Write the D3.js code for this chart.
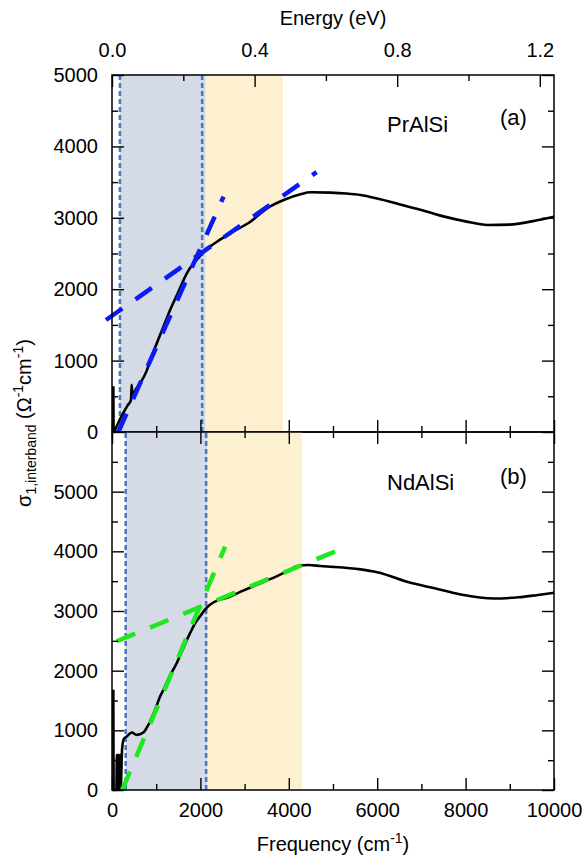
<!DOCTYPE html>
<html>
<head>
<meta charset="utf-8">
<script src="https://cdn.jsdelivr.net/npm/d3@7"></script>
<style>
  body { margin: 0; background: #fff; }
  svg text { font-family: "Liberation Sans", Arial, Helvetica, sans-serif; fill: #000; }
</style>
</head>
<body>
<svg id="chart" width="584" height="859"></svg>
<script>
// PrAlSi, sigma_1 interband (panel a)
var prFreq = [30, 38, 60, 150, 250, 350, 430, 445, 460, 540, 635, 786, 862, 1013, 1160, 1315, 1500, 1693, 1844, 1995, 2080, 2222, 2374, 2600, 2751, 3129, 3508, 3884, 4263, 4490, 4943, 5300, 5624, 6000, 6500, 7136, 7500, 8000, 8496, 9000, 9500, 10000];
var prSigma = [640, 0, 20, 140, 260, 370, 450, 660, 520, 600, 680, 860, 1000, 1242, 1470, 1709, 1960, 2222, 2363, 2465, 2530, 2600, 2665, 2750, 2810, 2945, 3133, 3249, 3329, 3357, 3352, 3340, 3319, 3270, 3190, 3085, 3020, 2950, 2899, 2905, 2950, 3015];

// NdAlSi, sigma_1 interband (panel b)
var ndFreq = [30, 38, 60, 100, 110, 125, 143, 160, 181, 195, 230, 270, 333, 446, 560, 710, 823, 975, 1088, 1164, 1300, 1466, 1620, 1769, 1900, 1995, 2100, 2222, 2400, 2600, 2900, 3204, 3500, 3734, 4000, 4188, 4450, 4717, 5000, 5624, 6000, 6757, 7300, 7891, 8646, 9200, 9600, 10000];
var ndSigma = [1680, 0, 0, 0, 590, 0, 590, 0, 590, 0, 700, 860, 896, 963, 924, 963, 1092, 1345, 1568, 1680, 1900, 2129, 2390, 2633, 2820, 2913, 3020, 3109, 3180, 3221, 3320, 3417, 3510, 3585, 3680, 3753, 3770, 3753, 3740, 3697, 3650, 3473, 3380, 3277, 3210, 3230, 3265, 3305];

// linear fits, endpoints in (cm^-1, Ohm^-1 cm^-1)
var prFits = [[[143, 0], [2524, 3296]], [[-136, 1569], [4630, 3640]]];
var ndFits = [[[230, 0], [2560, 4080]], [[106, 2493], [5261, 4062]]];

// shaded ranges [from, to] and cut-off lines (cm^-1)
var prGray = [180, 2120], prYellow = [2120, 3870], prCuts = [180, 2040];
var ndGray = [310, 2150], ndYellow = [2150, 4300], ndCuts = [310, 2130];

var freqMajor = [0, 2000, 4000, 6000, 8000, 10000];
var freqMinor = [1000, 3000, 5000, 7000, 9000];
var energyMajor = [0, 0.4, 0.8, 1.2];
var energyMinor = [0.2, 0.6, 1.0];
var sigmaMajor = [0, 1000, 2000, 3000, 4000, 5000];
var sigmaMinorA = [500, 1500, 2500, 3500, 4500];
var sigmaMinorB = [500, 1500, 2500, 3500, 4500, 5500];

var CM_PER_EV = 8065.54;
var padL = 112, padR = 554, padT = 75, padM = 432, padB = 790;

var svg = d3.select('#chart');
var x = d3.scaleLinear().domain([0, 10000]).range([padL, padR]);
var xe = d3.scaleLinear().domain([0, 10000 / CM_PER_EV]).range([padL, padR]);
var ya = d3.scaleLinear().domain([0, 5000]).range([padM, padT]);
var yb = d3.scaleLinear().domain([0, 6000]).range([padB, padM]);

function noDomain(a) {
  a.select('.domain').remove();
  a.selectAll('line').attr('stroke', '#000').attr('stroke-width', 1.4);
}

function panel(y, isTop, freq, sigma, gray, yellow, cuts, fits, fitColor, minorY, name, tag) {
  var g = svg.append('g');
  var y0 = y.range()[0], y1 = y.range()[1];
  g.append('rect').attr('x', x(gray[0])).attr('y', y1).attr('width', x(gray[1]) - x(gray[0])).attr('height', y0 - y1).attr('fill', '#d4dbe6');
  g.append('rect').attr('x', x(yellow[0])).attr('y', y1).attr('width', x(yellow[1]) - x(yellow[0])).attr('height', y0 - y1).attr('fill', '#fdf0d0');
  cuts.forEach(function (c) {
    g.append('line').attr('x1', x(c)).attr('x2', x(c)).attr('y1', y0).attr('y2', y1)
      .attr('stroke', '#4a78c8').attr('stroke-width', 2.6).attr('stroke-dasharray', '5,3');
  });

  var line = d3.line().x(function (d) { return x(d[0]); }).y(function (d) { return y(d[1]); }).curve(d3.curveMonotoneX);
  g.append('path').datum(d3.zip(freq, sigma)).attr('d', line)
    .attr('fill', 'none').attr('stroke', '#000').attr('stroke-width', 2.6);

  fits.forEach(function (f) {
    g.append('line').attr('x1', x(f[0][0])).attr('y1', y(f[0][1])).attr('x2', x(f[1][0])).attr('y2', y(f[1][1]))
      .attr('stroke', fitColor).attr('stroke-width', 4.5).attr('stroke-dasharray', '20,16');
  });

  // ticks, all pointing inward
  g.append('g').attr('transform', 'translate(' + padL + ',0)')
    .call(d3.axisLeft(y).tickValues(sigmaMajor).tickSize(-12).tickPadding(14).tickFormat(d3.format('d')))
    .call(noDomain).selectAll('text').attr('font-size', 20).attr('font-family', null);
  g.append('g').attr('transform', 'translate(' + padL + ',0)')
    .call(d3.axisLeft(y).tickValues(minorY).tickSize(-6).tickFormat('')).call(noDomain);
  g.append('g').attr('transform', 'translate(' + padR + ',0)')
    .call(d3.axisRight(y).tickValues(sigmaMajor).tickSize(-12).tickFormat('')).call(noDomain);
  g.append('g').attr('transform', 'translate(' + padR + ',0)')
    .call(d3.axisRight(y).tickValues(minorY).tickSize(-6).tickFormat('')).call(noDomain);
  g.append('g').attr('transform', 'translate(0,' + y0 + ')')
    .call(d3.axisBottom(x).tickValues(freqMajor).tickSize(-12).tickFormat('')).call(noDomain);
  g.append('g').attr('transform', 'translate(0,' + y0 + ')')
    .call(d3.axisBottom(x).tickValues(freqMinor).tickSize(-6).tickFormat('')).call(noDomain);
  if (!isTop) {
    g.append('g').attr('transform', 'translate(0,' + y1 + ')')
      .call(d3.axisTop(x).tickValues(freqMajor).tickSize(-12).tickFormat('')).call(noDomain);
    g.append('g').attr('transform', 'translate(0,' + y1 + ')')
      .call(d3.axisTop(x).tickValues(freqMinor).tickSize(-6).tickFormat('')).call(noDomain);
  }

  g.append('rect').attr('x', padL).attr('y', y1).attr('width', padR - padL).attr('height', y0 - y1)
    .attr('fill', 'none').attr('stroke', '#000').attr('stroke-width', 1.5);

  g.append('text').attr('x', 387).attr('y', name.y).attr('font-size', 22).text(name.text);
  g.append('text').attr('x', 500).attr('y', tag.y).attr('font-size', 22).text(tag.text);
  return g;
}

panel(ya, true, prFreq, prSigma, prGray, prYellow, prCuts, prFits, '#0a1cf5', sigmaMinorA,
  { text: 'PrAlSi', y: 132 }, { text: '(a)', y: 125 });
panel(yb, false, ndFreq, ndSigma, ndGray, ndYellow, ndCuts, ndFits, '#1ee81e', sigmaMinorB,
  { text: 'NdAlSi', y: 490 }, { text: '(b)', y: 484 });

// bottom frequency labels
svg.append('g').attr('transform', 'translate(0,' + padB + ')')
  .call(d3.axisBottom(x).tickValues(freqMajor).tickSize(0).tickPadding(13).tickFormat(d3.format('d')))
  .call(function (a) { a.select('.domain').remove(); })
  .selectAll('text').attr('font-size', 20).attr('font-family', null);

// top energy axis
svg.append('g').attr('transform', 'translate(0,' + padT + ')')
  .call(d3.axisTop(xe).tickValues(energyMajor).tickSize(-12).tickPadding(18).tickFormat(d3.format('.1f')))
  .call(noDomain)
  .selectAll('text').attr('font-size', 20).attr('font-family', null);
svg.append('g').attr('transform', 'translate(0,' + padT + ')')
  .call(d3.axisTop(xe).tickValues(energyMinor).tickSize(-6).tickFormat(''))
  .call(noDomain);

svg.append('text').attr('x', 333).attr('y', 25).attr('text-anchor', 'middle').attr('font-size', 20).text('Energy (eV)');

var xl = svg.append('text').attr('x', 333).attr('y', 851).attr('text-anchor', 'middle').attr('font-size', 20);
xl.append('tspan').text('Frequency (cm');
xl.append('tspan').attr('font-size', 14).attr('dy', -8).text('-1');
xl.append('tspan').attr('dy', 8).text(')');

var yl = svg.append('text').attr('transform', 'translate(31,423) rotate(-90)').attr('text-anchor', 'middle').attr('font-size', 20);
yl.append('tspan').text('σ');
yl.append('tspan').attr('font-size', 14).attr('dy', 5).text('1,interband');
yl.append('tspan').attr('dy', -5).text(' (Ω');
yl.append('tspan').attr('font-size', 14).attr('dy', -8).text('-1');
yl.append('tspan').attr('dy', 8).text('cm');
yl.append('tspan').attr('font-size', 14).attr('dy', -8).text('-1');
yl.append('tspan').attr('dy', 8).text(')');
</script>
</body>
</html>
